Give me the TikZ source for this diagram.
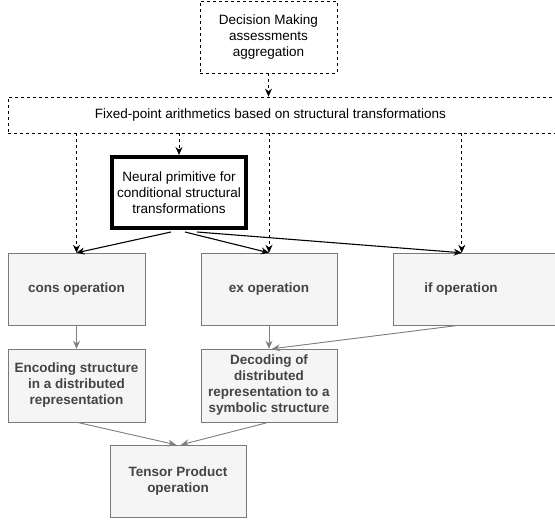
\documentclass[tikz,border=0pt]{standalone}
\usepackage{fontspec}
\setmainfont{Liberation Sans}
\usepackage{xcolor}
\usepackage{tikz}
\usetikzlibrary{arrows.meta,positioning,calc}

\definecolor{boxfill}{HTML}{F5F5F5}
\definecolor{boxline}{HTML}{7A7A7A}
\definecolor{boxtext}{HTML}{444444}
\definecolor{edgegray}{HTML}{808080}

\begin{document}
\begin{tikzpicture}[x=1pt, y=-1pt, >={Stealth[length=8pt,width=7pt]},
    font=\fontsize{13.5}{16}\selectfont,
    dashbox/.style={rectangle, draw, dashed, line width=0.8pt, dash pattern=on 3pt off 3pt, align=center, inner sep=0pt},
    opbox/.style={rectangle, draw=boxline, fill=boxfill, text=boxtext, font=\fontsize{13.5}{16}\selectfont\bfseries, align=center, inner sep=0pt, minimum height=72pt},
    dashlink/.style={->, dashed, dash pattern=on 3pt off 3pt, line width=0.8pt},
    solidlink/.style={->, line width=1.1pt},
    graylink/.style={->, draw=edgegray, fill=edgegray, line width=0.9pt}]
    \useasboundingbox (0,0) rectangle (555,521);

    % top of the stack
    \node [dashbox, minimum width=137pt, minimum height=72pt] (dec) at (268.5,37) {Decision Making\\ assessments\\ aggregation};
    \node [dashbox, minimum width=560pt, minimum height=36pt, anchor=west,
        label={[xshift=-18pt]center:Fixed-point arithmetics based on structural transformations}] (fix) at (8,115) {};
    \node [rectangle, draw, line width=4pt, align=center, inner sep=0pt, minimum width=134pt, minimum height=71pt] (neu) at (179,192.5) {Neural primitive for\\ conditional structural\\ transformations};

    % operations
    \node [opbox, minimum width=137pt] (cons) at (76.5,289) {cons operation};
    \node [opbox, minimum width=136pt] (ex) at (269,289) {ex operation};
    \node [opbox, minimum width=167pt, label={[xshift=-15.5pt, text=boxtext, font=\fontsize{13.5}{16}\selectfont\bfseries]center:if operation}] (ifop) at (476.5,289) {};
    \node [opbox, minimum width=137pt, minimum height=73pt] (enc) at (76.5,385.5) {Encoding structure\\ in a distributed\\ representation};
    \node [opbox, minimum width=136pt, minimum height=73pt] (dcd) at (269,385.5) {Decoding of\\ distributed\\ representation to a\\ symbolic structure};
    \node [opbox, minimum width=136pt] (tp) at (178,481) {Tensor Product\\ operation};

    \coordinate (iftop) at ($(ifop.north west)+(69,0)$);
    \coordinate (ifbot) at ($(ifop.south west)+(67,0)$);

    \draw [dashlink] (dec) -- (dec |- fix.north);
    \draw [dashlink] (neu |- fix.south) -- (neu);
    \draw [dashlink] (cons |- fix.south) -- (cons);
    \draw [dashlink] (ex |- fix.south) -- (ex);
    \draw [dashlink] (iftop |- fix.south) -- (iftop);

    \draw [solidlink] ($(neu.south)+(-8,2)$) -- (cons.north);
    \draw [solidlink] ($(neu.south)+(6,2)$) -- (ex.north);
    \draw [solidlink] ($(neu.south)+(18,2)$) -- (iftop);

    \draw [graylink] (cons) -- (enc);
    \draw [graylink] (ex) -- (dcd);
    \draw [graylink] (ifbot) -- ($(dcd.north)+(3,0)$);
    \draw [graylink] (enc.south) -- ($(tp.north)+(-2,0)$);
    \draw [graylink] (dcd.south) -- ($(tp.north)+(3,0)$);
\end{tikzpicture}
\end{document}
